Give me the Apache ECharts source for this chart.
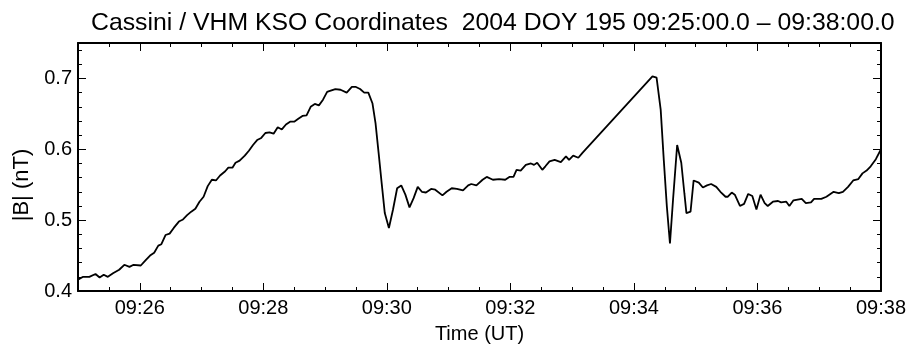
<!DOCTYPE html>
<html>
<head>
<meta charset="utf-8">
<script src="https://cdn.jsdelivr.net/npm/echarts@6/dist/echarts.min.js"></script>
<style>
html,body{margin:0;padding:0;background:#fff;}
#chart{width:912px;height:355px;}
</style>
</head>
<body>
<div id="chart"></div>
<script>
// Seconds after 09:25:00 UT
const times = [0,5,11,17,21,25,29,34,40,45,50,54,61,66,70,74,78,81,85,89,93,98,102,106,110,114,118,122,126,130,134,138,143,146,150,153,157,162,166,170,174,178,182,186,190,194,198,202,206,210,214,218,222,226,230,234,238,242,244,250,255,261,266,270,274,278,282,286,289,292,295,298,302,306,310,314,318,322,326,330,334,338,343,347,354,358,363,368,374,379,382,387,393,397,403,409,415,419,423,426,430,435,440,443,446,451,454,458,463,469,474,477,481,486,490,558,562,566,569,572,575,578,582,586,589,591,595,598,603,607,611,615,620,624,629,631,635,638,643,647,651,655,659,663,667,670,675,680,683,688,691,695,703,707,712,715,722,727,734,739,743,748,753,758,762,766,770,775,780];
const bMag = [0.416,0.420,0.420,0.424,0.419,0.423,0.420,0.425,0.430,0.437,0.434,0.437,0.436,0.444,0.450,0.454,0.464,0.466,0.479,0.481,0.489,0.498,0.501,0.507,0.512,0.516,0.526,0.533,0.548,0.557,0.556,0.563,0.569,0.574,0.574,0.581,0.584,0.591,0.598,0.606,0.613,0.616,0.623,0.624,0.622,0.631,0.628,0.635,0.639,0.639,0.643,0.647,0.648,0.660,0.664,0.662,0.670,0.681,0.682,0.685,0.684,0.680,0.688,0.688,0.685,0.680,0.680,0.665,0.637,0.595,0.552,0.510,0.489,0.515,0.545,0.549,0.536,0.518,0.531,0.547,0.540,0.539,0.544,0.543,0.535,0.540,0.545,0.544,0.542,0.549,0.551,0.549,0.557,0.561,0.557,0.558,0.557,0.561,0.561,0.571,0.570,0.578,0.580,0.578,0.581,0.571,0.576,0.583,0.585,0.582,0.590,0.585,0.591,0.588,0.595,0.703,0.701,0.656,0.585,0.519,0.467,0.529,0.606,0.581,0.538,0.510,0.512,0.556,0.553,0.546,0.549,0.551,0.547,0.540,0.533,0.533,0.539,0.536,0.520,0.523,0.537,0.534,0.515,0.536,0.524,0.520,0.526,0.527,0.525,0.526,0.520,0.528,0.530,0.524,0.525,0.530,0.530,0.533,0.540,0.538,0.540,0.547,0.556,0.558,0.566,0.570,0.576,0.586,0.600];
const xMajorTicks = [60,180,300,420,540,660,780];
const xTickLabels = ['09:26','09:28','09:30','09:32','09:34','09:36','09:38'];
const yMajorTicks = [0.4,0.5,0.6,0.7];
const yTickLabels = ['0.4','0.5','0.6','0.7'];
const titleText = 'Cassini / VHM KSO Coordinates  2004 DOY 195 09:25:00.0 \u2013 09:38:00.0';
const xTitle = 'Time (UT)';
const yTitle = '|B| (nT)';

const FONT = '"Liberation Sans", Arial, Helvetica, sans-serif';
const black = '#000';
const lineW = 2;

function xMajor(pos, labels) {
  return {
    type: 'value', position: pos, min: 0, max: 780,
    axisLine: {show: true, onZero: false, lineStyle: {color: black, width: lineW}},
    axisTick: {show: true, inside: true, length: 8, customValues: xMajorTicks, lineStyle: {color: black, width: 1}},
    axisLabel: labels ? {
      show: true, customValues: xMajorTicks, color: black, fontSize: 20, fontFamily: FONT, margin: 7,
      formatter: v => xTickLabels[xMajorTicks.indexOf(v)] || ''
    } : {show: false},
    splitLine: {show: false},
    name: labels ? xTitle : '',
    nameLocation: 'middle', nameGap: 33,
    nameTextStyle: {color: black, fontSize: 20, fontFamily: FONT}
  };
}
function xMinor(pos) {
  return {
    type: 'value', position: pos, min: 0, max: 780, interval: 30,
    axisLine: {show: false, onZero: false},
    axisTick: {show: true, inside: true, length: 4, lineStyle: {color: black, width: 1}},
    axisLabel: {show: false}, splitLine: {show: false}
  };
}
function yMajor(pos, labels) {
  return {
    type: 'value', position: pos, min: 0.4, max: 0.75,
    axisLine: {show: true, onZero: false, lineStyle: {color: black, width: lineW}},
    axisTick: {show: true, inside: true, length: 8, customValues: yMajorTicks, lineStyle: {color: black, width: 1}},
    axisLabel: labels ? {
      show: true, customValues: yMajorTicks, color: black, fontSize: 20, fontFamily: FONT, margin: 6,
      padding: [4, 0, 0, 0],
      formatter: v => yTickLabels[yMajorTicks.findIndex(t => Math.abs(t - v) < 1e-6)] || ''
    } : {show: false},
    splitLine: {show: false}
  };
}
function yMinor(pos) {
  return {
    type: 'value', position: pos, min: 0.4, max: 0.75, interval: 0.02,
    axisLine: {show: false, onZero: false},
    axisTick: {show: true, inside: true, length: 4, lineStyle: {color: black, width: 1}},
    axisLabel: {show: false}, splitLine: {show: false}
  };
}

const chart = echarts.init(document.getElementById('chart'), null, {renderer: 'canvas'});
chart.setOption({
  backgroundColor: '#fff',
  animation: false,
  title: {
    text: titleText, left: 86, top: 6,
    textStyle: {color: black, fontSize: 24.8, fontWeight: 'normal', fontFamily: FONT}
  },
  graphic: [{
    type: 'text', x: 22, y: 185, rotation: Math.PI / 2,
    style: {text: yTitle, fill: black, fontSize: 22, fontFamily: FONT, align: 'center', verticalAlign: 'middle'}
  }],
  grid: {left: 78, right: 31, top: 43, bottom: 64, containLabel: false},
  xAxis: [xMajor('bottom', true), xMinor('bottom'), xMajor('top', false), xMinor('top')],
  yAxis: [yMajor('left', true), yMinor('left'), yMajor('right', false), yMinor('right')],
  series: [{
    type: 'line', xAxisIndex: 0, yAxisIndex: 0,
    data: times.map((t, i) => [t, bMag[i]]),
    showSymbol: false, symbol: 'none', smooth: false,
    lineStyle: {color: black, width: 1.8},
    clip: true
  }]
});
</script>
</body>
</html>
